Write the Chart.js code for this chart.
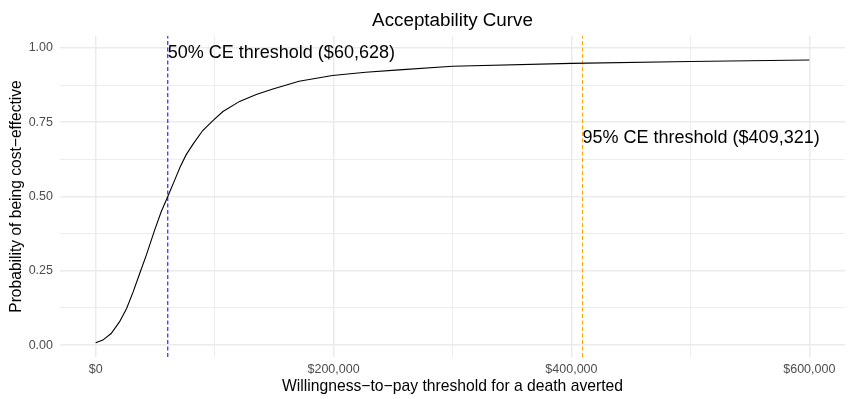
<!DOCTYPE html>
<html>
<head>
<meta charset="utf-8">
<script src="https://cdn.jsdelivr.net/npm/chart.js@4/dist/chart.umd.min.js"></script>
<style>
  html, body { margin: 0; padding: 0; background: #fff; }
  #wrap { position: relative; width: 850px; height: 399px; }
</style>
</head>
<body>
<div id="wrap"><canvas id="c"></canvas></div>
<script>
// willingness-to-pay values (x) and probability cost-effective (y)
const wtp = [0, 6000, 13000, 20000, 26000, 31500, 37000, 42500, 49500, 55000, 60628,
  66500, 71000, 76000, 82000, 90000, 99000, 107000, 121000, 135000, 149000, 171000,
  199000, 227000, 255000, 300000, 400000, 500000, 600000];
const prob = [0.008, 0.017, 0.039, 0.078, 0.123, 0.179, 0.241, 0.302, 0.386, 0.448, 0.5,
  0.556, 0.599, 0.64, 0.677, 0.722, 0.757, 0.786, 0.82, 0.843, 0.862, 0.888,
  0.907, 0.918, 0.926, 0.938, 0.948, 0.954, 0.959];

const threshold50 = 60628;
const threshold95 = 409321;
const label50 = '50% CE threshold ($60,628)';
const label95 = '95% CE threshold ($409,321)';
const label50Y = 0.984;
const label95Y = 0.697;

const xTicks = [0, 100000, 200000, 300000, 400000, 500000, 600000];
const yTicks = [0, 0.125, 0.25, 0.375, 0.5, 0.625, 0.75, 0.875, 1];

const yMin = -0.04, yMax = 1.04;
const FONT = "'Liberation Sans', Arial, sans-serif";

const fmtDollar = v => '$' + v.toLocaleString('en-US');

// title + threshold labels drawn as text at data positions
const annotations = {
  id: 'annotations',
  afterDatasetsDraw(chart) {
    const { ctx, chartArea, scales } = chart;
    ctx.save();
    ctx.fillStyle = '#000';
    ctx.font = '18.8px ' + FONT;
    ctx.textAlign = 'center';
    ctx.textBaseline = 'alphabetic';
    ctx.fillText('Acceptability Curve', (chartArea.left + chartArea.right) / 2, 26);

    ctx.font = '18px ' + FONT;
    ctx.textAlign = 'left';
    ctx.textBaseline = 'middle';
    ctx.fillText(label50, scales.x.getPixelForValue(threshold50), scales.y.getPixelForValue(label50Y));
    ctx.fillText(label95, scales.x.getPixelForValue(threshold95), scales.y.getPixelForValue(label95Y));
    ctx.restore();
  }
};

new Chart(document.getElementById('c'), {
  type: 'scatter',
  data: {
    datasets: [
      {
        data: wtp.map((x, i) => ({ x, y: prob[i] })),
        showLine: true,
        borderColor: '#000',
        borderWidth: 1.1,
        pointRadius: 0,
        tension: 0,
        order: 1,
      },
      {
        data: [{ x: threshold50, y: yMin }, { x: threshold50, y: yMax }],
        showLine: true,
        borderColor: '#0000ff',
        borderWidth: 1,
        borderDash: [4, 2.5],
        pointRadius: 0,
        order: 2,
      },
      {
        data: [{ x: threshold95, y: yMin }, { x: threshold95, y: yMax }],
        showLine: true,
        borderColor: '#ffa500',
        borderWidth: 1,
        borderDash: [4, 2.5],
        pointRadius: 0,
        order: 2,
      },
    ],
  },
  options: {
    responsive: true,
    maintainAspectRatio: false,
    animation: false,
    layout: { padding: { top: 36, right: 5, left: 0, bottom: 0 } },
    plugins: {
      legend: { display: false },
      tooltip: { enabled: false },
      title: { display: false },
    },
    scales: {
      x: {
        type: 'linear',
        min: -30000,
        max: 630000,
        afterBuildTicks: s => { s.ticks = xTicks.map(v => ({ value: v })); },
        afterFit: s => { s.height = 42; },
        border: { display: false },
        grid: {
          color: '#ebebeb',
          lineWidth: c => (c.tick && c.tick.value % 200000 === 0 ? 1.5 : 0.9),
          drawTicks: false,
        },
        ticks: {
          autoSkip: false,
          maxRotation: 0,
          padding: 5,
          color: '#4d4d4d',
          font: { family: FONT, size: 12.5 },
          callback: v => (v % 200000 === 0 ? fmtDollar(v) : ''),
        },
        title: {
          display: true,
          text: 'Willingness\u2212to\u2212pay threshold for a death averted',
          color: '#000',
          font: { family: FONT, size: 15.7 },
          padding: { top: 0, bottom: 3 },
        },
      },
      y: {
        type: 'linear',
        min: yMin,
        max: yMax,
        afterBuildTicks: s => { s.ticks = yTicks.map(v => ({ value: v })); },
        afterFit: s => { s.width = 60; },
        border: { display: false },
        grid: {
          color: '#ebebeb',
          lineWidth: c => (c.tick && (c.tick.value * 4) % 1 === 0 ? 1.5 : 0.9),
          drawTicks: false,
        },
        ticks: {
          autoSkip: false,
          padding: 7,
          color: '#4d4d4d',
          font: { family: FONT, size: 12.5 },
          callback: v => ((v * 4) % 1 === 0 ? v.toFixed(2) : ''),
        },
        title: {
          display: true,
          text: 'Probability of being cost\u2212effective',
          color: '#000',
          font: { family: FONT, size: 15.6 },
          padding: { top: 7, bottom: 0 },
        },
      },
    },
  },
  plugins: [annotations],
});
</script>
</body>
</html>
